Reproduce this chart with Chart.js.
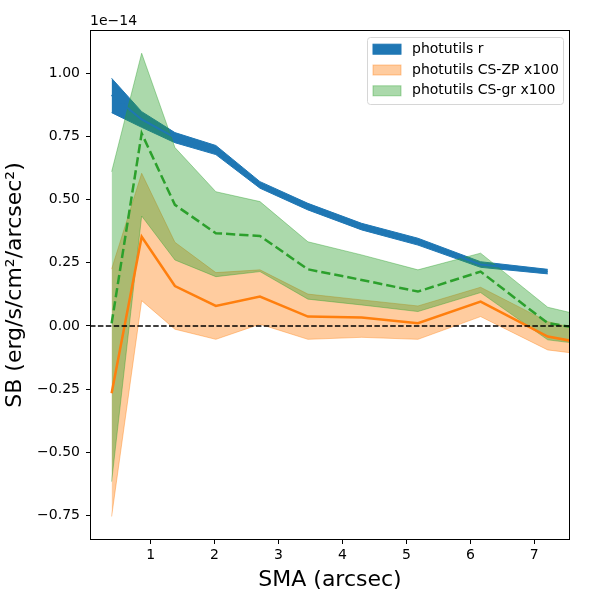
<!DOCTYPE html>
<html>
<head>
<meta charset="utf-8">
<script src="https://cdn.jsdelivr.net/npm/chart.js@4.4.1/dist/chart.umd.min.js"></script>
<style>
  html, body { margin: 0; padding: 0; background: #fff; }
  canvas { display: block; }
</style>
</head>
<body>
<canvas id="sbChart" width="600" height="600"></canvas>
<script>
// semi-major axis (arcsec)
const sma = [0.39, 0.86, 1.38, 2.02, 2.71, 3.46, 4.30, 5.18, 6.16, 7.21, 8.36];

// photutils r (x 1e-14)
const rMid = [0.914, 0.817, 0.745, 0.696, 0.558, 0.472, 0.393, 0.334, 0.243, 0.215];
const rLo  = [0.844, 0.786, 0.725, 0.678, 0.545, 0.459, 0.380, 0.320, 0.232, 0.206];
const rHi  = [0.980, 0.848, 0.765, 0.714, 0.571, 0.485, 0.406, 0.347, 0.254, 0.224];

// photutils CS-ZP x100
const zpMid = [-0.266, 0.353, 0.158, 0.079, 0.116, 0.037, 0.033, 0.011, 0.096, -0.042, -0.095];
const zpLo  = [-0.754, 0.100, -0.013, -0.053, 0.007, -0.053, -0.045, -0.053, 0.037, -0.095, -0.131];
const zpHi  = [0.225, 0.604, 0.331, 0.211, 0.222, 0.126, 0.103, 0.079, 0.153, 0.017, -0.055];

// photutils CS-gr x100
const grMid = [0.010, 0.762, 0.479, 0.367, 0.356, 0.224, 0.182, 0.136, 0.215, 0.011, -0.035];
const grLo  = [-0.616, 0.435, 0.261, 0.195, 0.215, 0.106, 0.083, 0.057, 0.132, -0.055, -0.091];
const grHi  = [0.610, 1.079, 0.706, 0.531, 0.492, 0.333, 0.281, 0.222, 0.288, 0.074, 0.005];

const xTicks = [1, 2, 3, 4, 5, 6, 7];
const yTicks = [-0.75, -0.5, -0.25, 0, 0.25, 0.5, 0.75, 1.0];
const xLim = [0.052, 7.558];
const yLim = [-0.847, 1.171];

const blue = '#1f77b4';
const orangeA = 'rgba(255,127,14,0.4)';
const greenA = 'rgba(44,160,44,0.4)';

function pts(vals) {
    return vals.map((v, i) => ({ x: sma[i], y: v }));
}

function band(vals, color, order, fill, label) {
    return {
        label: label,
        data: pts(vals),
        borderColor: color,
        backgroundColor: color,
        borderWidth: 1,
        pointRadius: 0,
        fill: fill,
        order: order
    };
}

const datasets = [
    band(rLo, blue, 10, false),
    band(rHi, blue, 10, 0, 'photutils r'),
    band(zpLo, orangeA, 8, false),
    band(zpHi, orangeA, 8, 2, 'photutils CS-ZP x100'),
    band(grLo, greenA, 6, false),
    band(grHi, greenA, 6, 4, 'photutils CS-gr x100'),
    { data: pts(rMid), borderColor: blue, borderWidth: 2, pointRadius: 0, fill: false, order: 5 },
    { data: pts(zpMid), borderColor: '#ff7f0e', borderWidth: 2.5, pointRadius: 0, fill: false, order: 4 },
    { data: pts(grMid), borderColor: '#2ca02c', borderWidth: 2.5, borderDash: [9.25, 4], pointRadius: 0, fill: false, order: 3 },
    // zero level
    { data: [{ x: xLim[0], y: 0 }, { x: xLim[1], y: 0 }], borderColor: '#000', borderWidth: 1.5,
      borderDash: [5.5, 2.4], pointRadius: 0, fill: false, order: 2 }
];

// frame, offset text and legend box
const extras = {
    id: 'extras',
    afterDraw(chart) {
        const { ctx, chartArea: a } = chart;
        ctx.save();
        ctx.strokeStyle = '#000';
        ctx.lineWidth = 1;
        ctx.strokeRect(a.left + 0.5, a.top + 0.5, a.right - a.left - 1, a.bottom - a.top - 1);

        ctx.font = '14px "DejaVu Sans"';
        ctx.fillStyle = '#000';
        ctx.textBaseline = 'middle';
        ctx.textAlign = 'left';
        ctx.fillText('1e\u221214', a.left, a.top - 8.5);

        // legend
        const bx = 367.5, by = 37.5, bw = 196, bh = 67;
        ctx.beginPath();
        ctx.roundRect(bx, by, bw, bh, 3);
        ctx.fillStyle = 'rgba(255,255,255,0.8)';
        ctx.fill();
        ctx.strokeStyle = '#d6d6d6';
        ctx.stroke();

        const entries = [datasets[1], datasets[3], datasets[5]];
        const rows = [49.2, 70, 90.8];
        entries.forEach((d, i) => {
            ctx.fillStyle = d.backgroundColor;
            ctx.fillRect(373, rows[i] - 5, 28, 10);
            ctx.strokeStyle = d.borderColor;
            ctx.lineWidth = 1;
            ctx.strokeRect(373, rows[i] - 5, 28, 10);
            ctx.fillStyle = '#000';
            ctx.fillText(d.label, 412, rows[i]);
        });
        ctx.restore();
    }
};

const tickFont = { family: 'DejaVu Sans', size: 14 };
const titleFont = { family: 'DejaVu Sans', size: 22 };

new Chart(document.getElementById('sbChart'), {
    type: 'line',
    data: { datasets: datasets },
    options: {
        responsive: false,
        animation: false,
        devicePixelRatio: 1,
        layout: { padding: { left: 0, right: 30, top: 30, bottom: 0 } },
        plugins: { legend: { display: false }, tooltip: { enabled: false } },
        scales: {
            x: {
                type: 'linear',
                min: xLim[0],
                max: xLim[1],
                afterBuildTicks: s => { s.ticks = xTicks.map(v => ({ value: v })); },
                afterFit: s => { s.height = 60; },
                grid: { drawOnChartArea: false, drawTicks: true, tickLength: 4, color: '#000' },
                border: { display: false },
                ticks: { font: tickFont, color: '#000', padding: 3, maxRotation: 0,
                         callback: v => String(v) },
                title: { display: true, text: 'SMA (arcsec)', font: titleFont, color: '#000',
                         padding: { top: 0, bottom: 6.8 } }
            },
            y: {
                type: 'linear',
                min: yLim[0],
                max: yLim[1],
                afterBuildTicks: s => { s.ticks = yTicks.map(v => ({ value: v })); },
                afterFit: s => { s.width = 90; },
                grid: { drawOnChartArea: false, drawTicks: true, tickLength: 4, color: '#000' },
                border: { display: false },
                ticks: { font: tickFont, color: '#000', padding: 6,
                         callback: v => v.toFixed(2).replace('-', '\u2212') },
                title: { display: true, text: 'SB (erg/s/cm\u00b2/arcsec\u00b2)', font: titleFont,
                         color: '#000', padding: { top: 2.3, bottom: 0 } }
            }
        }
    },
    plugins: [extras]
});
</script>
</body>
</html>
